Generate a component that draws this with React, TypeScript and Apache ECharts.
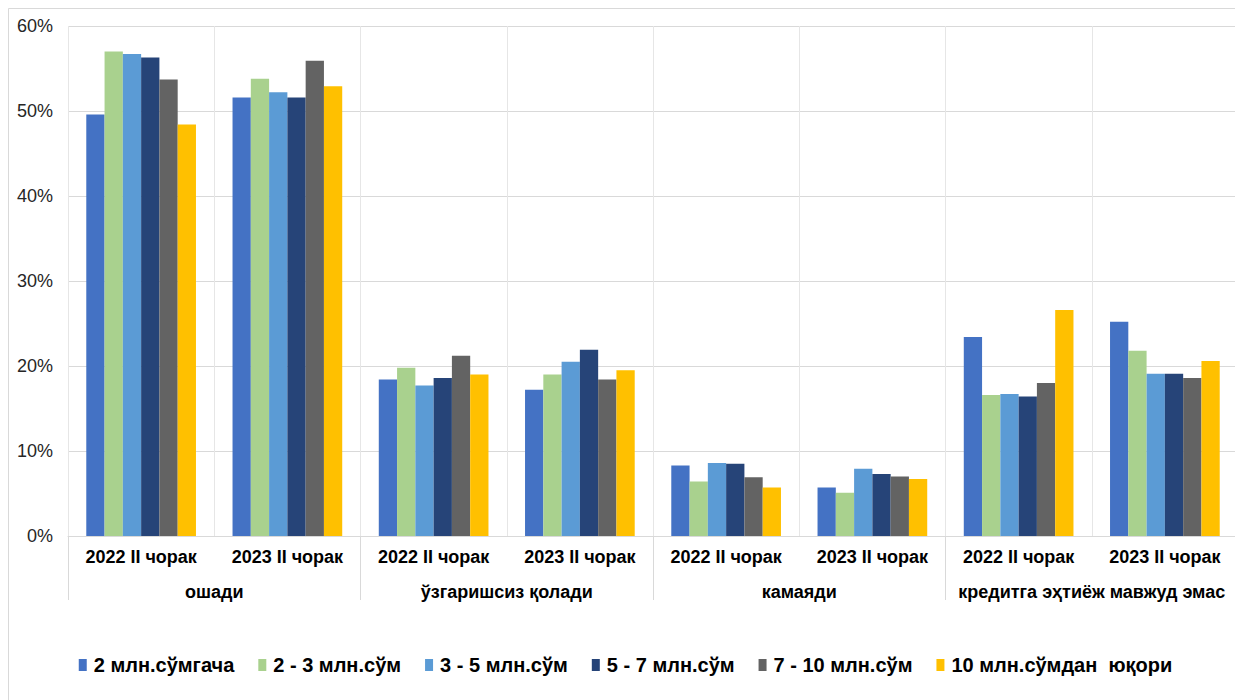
import React, { useEffect, useRef } from "react";
import * as echarts from "echarts";

const periods = [
  "2022 II чорак", "2023 II чорак",
  "2022 II чорак", "2023 II чорак",
  "2022 II чорак", "2023 II чорак",
  "2022 II чорак", "2023 II чорак",
];
const groups = ["ошади", "ўзгаришсиз қолади", "камаяди", "кредитга эҳтиёж мавжуд эмас"];
const seriesNames = [
  "2 млн.сўмгача",
  "2 - 3 млн.сўм",
  "3 - 5 млн.сўм",
  "5 - 7 млн.сўм",
  "7 - 10 млн.сўм",
  "10 млн.сўмдан  юқори",
];
const s1 = [49.6, 51.6, 18.4, 17.2, 8.3, 5.7, 23.4, 25.2];
const s2 = [57.0, 53.8, 19.8, 19.0, 6.4, 5.1, 16.6, 21.8];
const s3 = [56.7, 52.2, 17.7, 20.5, 8.6, 7.9, 16.7, 19.1];
const s4 = [56.3, 51.6, 18.6, 21.9, 8.5, 7.3, 16.4, 19.1];
const s5 = [53.7, 55.9, 21.2, 18.4, 6.9, 7.0, 18.0, 18.6];
const s6 = [48.4, 52.9, 19.0, 19.5, 5.7, 6.7, 26.6, 20.6];
const colors = ["#4472C4", "#A9D18E", "#5B9BD5", "#264478", "#636363", "#FFC000"];

const NARROW = "'Liberation Sans Narrow', 'Arial Narrow', 'Liberation Sans', Arial, sans-serif";

export default function App() {
  const ref = useRef<HTMLDivElement>(null);
  useEffect(() => {
    if (!ref.current) return;
    const chart = echarts.init(ref.current, undefined, { renderer: "svg" });
    const data = [s1, s2, s3, s4, s5, s6];
    chart.setOption({
      animation: false,
      color: colors,
      grid: { left: 60, right: 5, top: 18, bottom: 164 },
      graphic: [
        { type: "line", shape: { x1: 0.5, y1: 0.5, x2: 1234.5, y2: 0.5 }, style: { stroke: "#d9d9d9", lineWidth: 1 } },
        { type: "line", shape: { x1: 0.5, y1: 0.5, x2: 0.5, y2: 692 }, style: { stroke: "#d9d9d9", lineWidth: 1 } },
        { type: "line", shape: { x1: 1234.5, y1: 0.5, x2: 1234.5, y2: 692 }, style: { stroke: "#d9d9d9", lineWidth: 1 } },
      ],
      legend: {
        bottom: 20,
        left: "center",
        itemWidth: 8,
        itemHeight: 12,
        itemGap: 24,
        icon: "rect",
        textStyle: { fontFamily: NARROW, fontWeight: "bold", fontSize: 20, color: "#000", padding: [0, 0, 0, 2] },
        data: seriesNames,
      },
      xAxis: [
        {
          type: "category",
          data: periods,
          axisLine: { show: true, lineStyle: { color: "#d9d9d9" } },
          axisTick: { show: false },
          splitLine: { show: true, lineStyle: { color: "#e6e6e6" } },
          axisLabel: {
            interval: 0,
            margin: 12,
            fontFamily: NARROW,
            fontWeight: "bold",
            fontSize: 18,
            color: "#000",
          },
        },
        {
          type: "category",
          data: groups,
          position: "bottom",
          axisLine: { show: false },
          axisTick: { show: true, length: 64, lineStyle: { color: "#d9d9d9" } },
          axisLabel: {
            interval: 0,
            margin: 47,
            fontFamily: NARROW,
            fontWeight: "bold",
            fontSize: 18,
            color: "#000",
          },
        },
      ],
      yAxis: {
        type: "value",
        min: 0,
        max: 60,
        interval: 10,
        axisLine: { show: false },
        axisTick: { show: false },
        splitLine: { lineStyle: { color: "#d9d9d9" } },
        axisLabel: {
          formatter: "{value}%",
          fontFamily: "'Liberation Sans', Arial, sans-serif",
          fontSize: 18,
          color: "#262626",
          margin: 15,
        },
      },
      series: seriesNames.map((name, i) => ({
        name,
        type: "bar",
        xAxisIndex: 0,
        data: data[i],
        barGap: "0%",
        barCategoryGap: "25%",
        itemStyle: { color: colors[i] },
      })),
    });
    return () => chart.dispose();
  }, []);
  return <div ref={ref} style={{ width: 1235, height: 692 }} />;
}
